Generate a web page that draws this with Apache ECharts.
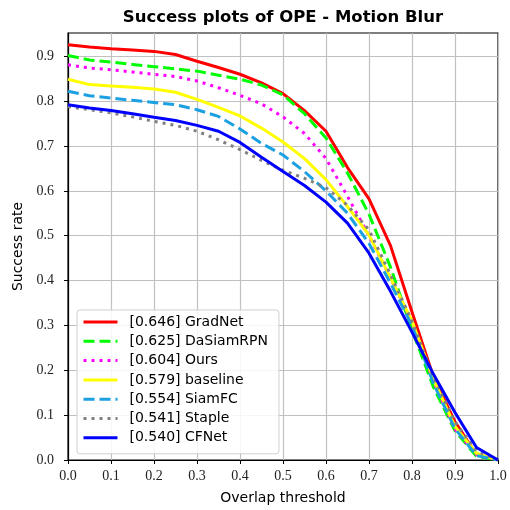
<!DOCTYPE html>
<html>
<head>
<meta charset="utf-8">
<script src="https://cdn.jsdelivr.net/npm/echarts@6/dist/echarts.min.js"></script>
<style>html,body{margin:0;padding:0;background:#fff}#c{width:510px;height:510px}</style>
</head>
<body>
<div id="c"></div>
<script>
const thresholds = [0,0.05,0.1,0.15,0.2,0.25,0.3,0.35,0.4,0.45,0.5,0.55,0.6,0.65,0.7,0.75,0.8,0.85,0.9,0.95,1.0];
const names = ['[0.646] GradNet','[0.625] DaSiamRPN','[0.604] Ours','[0.579] baseline','[0.554] SiamFC','[0.541] Staple','[0.540] CFNet'];
const gradnet  = [0.926,0.921,0.917,0.914,0.911,0.904,0.889,0.875,0.860,0.841,0.817,0.779,0.733,0.652,0.582,0.478,0.330,0.185,0.085,0.012,0.0];
const dasiam   = [0.902,0.892,0.887,0.882,0.877,0.872,0.867,0.858,0.849,0.836,0.814,0.772,0.718,0.640,0.548,0.430,0.290,0.162,0.065,0.008,0.0];
const ours     = [0.881,0.874,0.870,0.865,0.860,0.855,0.845,0.830,0.813,0.794,0.765,0.728,0.672,0.588,0.500,0.406,0.308,0.175,0.068,0.012,0.0];
const baseline = [0.849,0.837,0.834,0.831,0.827,0.820,0.804,0.786,0.767,0.740,0.709,0.672,0.625,0.565,0.502,0.406,0.310,0.180,0.075,0.015,0.0];
const siamfc   = [0.822,0.812,0.807,0.802,0.797,0.792,0.781,0.766,0.738,0.706,0.680,0.643,0.600,0.550,0.483,0.394,0.300,0.170,0.070,0.010,0.0];
const staple   = [0.788,0.781,0.774,0.765,0.755,0.746,0.733,0.714,0.692,0.668,0.646,0.628,0.607,0.568,0.513,0.413,0.310,0.185,0.085,0.020,0.0];
const cfnet    = [0.792,0.785,0.779,0.772,0.764,0.757,0.746,0.733,0.708,0.675,0.643,0.612,0.575,0.528,0.461,0.376,0.285,0.191,0.106,0.028,0.0];
const xTicks = ['0.0','0.1','0.2','0.3','0.4','0.5','0.6','0.7','0.8','0.9','1.0'];
const yTicks = ['0.0','0.1','0.2','0.3','0.4','0.5','0.6','0.7','0.8','0.9'];

const allValues = [gradnet,dasiam,ours,baseline,siamfc,staple,cfnet];
const colors = ['#ff0000','#00ff00','#ff00ff','#ffff00','#1ba1e2','#808080','#0000ff'];
const dash = [null,[11,5],[3,5],null,[11,5],[3,5],null];

const series = names.map((n,i)=>({
  name:n, type:'line', showSymbol:false, symbol:'none', animation:false,
  data: thresholds.map((t,j)=>[t, allValues[i][j]]),
  lineStyle:{color:colors[i], width:3, type: dash[i] ? dash[i] : 'solid', cap:'butt'},
  itemStyle:{color:colors[i]},
  z: 2+i
}));

const chart = echarts.init(document.getElementById('c'), null, {renderer:'canvas'});
const serif = 'Liberation Serif';
const sans = 'DejaVu Sans';
function fmt(v, list){
  const s = v.toFixed(1);
  if (Math.abs(v*10 - Math.round(v*10)) > 1e-6) return '';
  return list.indexOf(s) >= 0 ? s : '';
}
chart.setOption({
  backgroundColor:'#fff',
  animation:false,
  title:{text:'Success plots of OPE - Motion Blur', left:278, top:4, textAlign:'center',
    textStyle:{fontFamily:sans, fontWeight:'bold', fontSize:16.5, color:'#000'}},
  grid:{left:68, right:12, top:33, bottom:47, show:true, borderColor:'#000', borderWidth:1.2, backgroundColor:'transparent'},
  xAxis:{type:'value', min:0, max:1, interval:0.1,
    name:'Overlap threshold', nameLocation:'middle', nameGap:31,
    nameTextStyle:{fontFamily:sans, fontSize:14, color:'#000'},
    axisLine:{show:true, lineStyle:{color:'#000', width:1.2}},
    axisTick:{show:true, length:4, inside:false, lineStyle:{color:'#000'}},
    axisLabel:{fontFamily:serif, fontSize:14, color:'#222', margin:9, formatter:v=>fmt(v,xTicks)},
    splitLine:{show:true, lineStyle:{color:'#c0c0c0', width:1.2}}},
  yAxis:{type:'value', min:0, max:0.952, interval:0.1,
    name:'Success rate', nameLocation:'middle', nameGap:35, nameRotate:90,
    nameTextStyle:{fontFamily:sans, fontSize:14, color:'#000'},
    axisLine:{show:true, lineStyle:{color:'#000', width:1.2}},
    axisTick:{show:true, length:4, inside:false, lineStyle:{color:'#000'}},
    axisLabel:{fontFamily:serif, fontSize:14, color:'#222', margin:14, showMaxLabel:false, formatter:v=>fmt(v,yTicks)},
    splitLine:{show:true, showMaxLine:false, lineStyle:{color:'#c0c0c0', width:1.2}}},
  legend:{show:true, orient:'vertical', left:77, top:310, itemWidth:34, itemHeight:14, itemGap:5.3,
    padding:[5,11,9,5], backgroundColor:'rgba(255,255,255,0.85)', borderColor:'#d0d0d0', borderWidth:1, borderRadius:3,
    itemStyle:{color:'rgba(0,0,0,0)', borderWidth:0, opacity:0},
    lineStyle:{width:3},
    data:names,
    textStyle:{fontFamily:sans, fontSize:14, color:'#000', padding:[0,0,0,7], lineHeight:14}},
  series: series
});
</script>
</body>
</html>
